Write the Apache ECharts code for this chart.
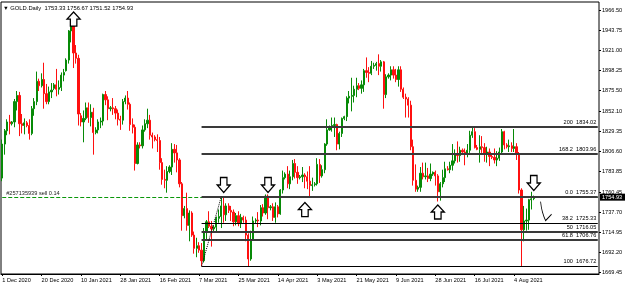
<!DOCTYPE html>
<html><head><meta charset="utf-8">
<script src="https://cdn.jsdelivr.net/npm/echarts@6/dist/echarts.min.js"></script>
<style>html,body{margin:0;padding:0;background:#fff}#c{width:625px;height:286px}</style>
</head><body><div id="c"></div>
<script>
const dates = [
'2020.12.01','2020.12.02','2020.12.03','2020.12.04',
'2020.12.06','2020.12.07','2020.12.08','2020.12.09','2020.12.10','2020.12.11',
'2020.12.13','2020.12.14','2020.12.15','2020.12.16','2020.12.17','2020.12.18',
'2020.12.20','2020.12.21','2020.12.22','2020.12.23','2020.12.24',
'2020.12.27','2020.12.28','2020.12.29','2020.12.30','2020.12.31',
'2021.01.03','2021.01.04','2021.01.05','2021.01.06','2021.01.07','2021.01.08',
'2021.01.10','2021.01.11','2021.01.12','2021.01.13','2021.01.14','2021.01.15',
'2021.01.17','2021.01.18','2021.01.19','2021.01.20','2021.01.21','2021.01.22',
'2021.01.24','2021.01.25','2021.01.26','2021.01.27','2021.01.28','2021.01.29',
'2021.01.31','2021.02.01','2021.02.02','2021.02.03','2021.02.04','2021.02.05',
'2021.02.07','2021.02.08','2021.02.09','2021.02.10','2021.02.11','2021.02.12',
'2021.02.14','2021.02.15','2021.02.16','2021.02.17','2021.02.18','2021.02.19',
'2021.02.21','2021.02.22','2021.02.23','2021.02.24','2021.02.25','2021.02.26',
'2021.02.28','2021.03.01','2021.03.02','2021.03.03','2021.03.04','2021.03.05',
'2021.03.07','2021.03.08','2021.03.09','2021.03.10','2021.03.11','2021.03.12',
'2021.03.14','2021.03.15','2021.03.16','2021.03.17','2021.03.18','2021.03.19',
'2021.03.21','2021.03.22','2021.03.23','2021.03.24','2021.03.25','2021.03.26',
'2021.03.28','2021.03.29','2021.03.30','2021.03.31','2021.04.01',
'2021.04.04','2021.04.05','2021.04.06','2021.04.07','2021.04.08','2021.04.09',
'2021.04.11','2021.04.12','2021.04.13','2021.04.14','2021.04.15','2021.04.16',
'2021.04.18','2021.04.19','2021.04.20','2021.04.21','2021.04.22','2021.04.23',
'2021.04.25','2021.04.26','2021.04.27','2021.04.28','2021.04.29','2021.04.30',
'2021.05.02','2021.05.03','2021.05.04','2021.05.05','2021.05.06','2021.05.07',
'2021.05.09','2021.05.10','2021.05.11','2021.05.12','2021.05.13','2021.05.14',
'2021.05.16','2021.05.17','2021.05.18','2021.05.19','2021.05.20','2021.05.21',
'2021.05.23','2021.05.24','2021.05.25','2021.05.26','2021.05.27','2021.05.28',
'2021.05.30','2021.05.31','2021.06.01','2021.06.02','2021.06.03','2021.06.04',
'2021.06.06','2021.06.07','2021.06.08','2021.06.09','2021.06.10','2021.06.11',
'2021.06.13','2021.06.14','2021.06.15','2021.06.16','2021.06.17','2021.06.18',
'2021.06.20','2021.06.21','2021.06.22','2021.06.23','2021.06.24','2021.06.25',
'2021.06.27','2021.06.28','2021.06.29','2021.06.30','2021.07.01','2021.07.02',
'2021.07.04','2021.07.05','2021.07.06','2021.07.07','2021.07.08','2021.07.09',
'2021.07.11','2021.07.12','2021.07.13','2021.07.14','2021.07.15','2021.07.16',
'2021.07.18','2021.07.19','2021.07.20','2021.07.21','2021.07.22','2021.07.23',
'2021.07.25','2021.07.26','2021.07.27','2021.07.28','2021.07.29','2021.07.30',
'2021.08.01','2021.08.02','2021.08.03','2021.08.04','2021.08.05','2021.08.06',
'2021.08.08','2021.08.09','2021.08.10','2021.08.11','2021.08.12','2021.08.13'
];
const futureDates = [
'2021.08.15','2021.08.16','2021.08.17','2021.08.18','2021.08.19','2021.08.20',
'2021.08.22','2021.08.23','2021.08.24','2021.08.25','2021.08.26','2021.08.27',
'2021.08.29','2021.08.30','2021.08.31','2021.09.01','2021.09.02','2021.09.03',
'2021.09.05','2021.09.06','2021.09.07','2021.09.08','2021.09.09','2021.09.10',
'2021.09.12','2021.09.13'
];
const opens = [
1776.5,1815,1830,1840,
1838,1840,1863,1870,1838,1836,
1839,1836,1827,1855,1863,1886,
1881,1888,1872,1863,1874,
1878,1882,1877,1879,1893,
1898,1910,1943,1949,1918,1912,
1847,1840,1844,1856,1845,1851,
1828,1831,1840,1841,1871,1865,
1855,1856,1855,1850,1843,1842,
1863,1867,1860,1837,1834,1793,
1814,1813,1831,1838,1842,1825,
1823,1820,1819,1794,1775,1774,
1784,1789,1809,1805,1797,1770,
1734,1742,1723,1737,1712,1697,
1700,1695,1683,1716,1727,1722,
1719,1721,1731,1733,1745,1735,
1745,1740,1738,1727,1734,1725,
1732,1729,1712,1685,1707,
1728,1729,1728,1743,1737,1756,
1743,1744,1732,1744,1736,1763,
1777,1781,1770,1778,1793,1783,
1777,1778,1780,1778,1773,1768,
1769,1770,1792,1779,1786,1815,
1831,1834,1836,1837,1815,1827,
1844,1846,1867,1869,1870,1877,
1881,1878,1882,1898,1896,1895,
1903,1904,1906,1903,1908,1871,
1891,1893,1899,1893,1888,1899,
1877,1868,1866,1859,1812,1774,
1764,1766,1782,1778,1779,1776,
1781,1783,1779,1761,1770,1777,
1787,1786,1791,1796,1803,1802,
1808,1806,1805,1808,1825,1829,
1811,1809,1812,1811,1804,1806,
1801,1800,1797,1799,1806,1829,
1814,1812,1813,1810,1812,1804,
1763,1718,1728,1729,1752,1753.33
];
const highs = [
1820,1832,1843,1848,
1841,1866,1875,1874,1849,1844,
1841,1843,1858,1867,1897,1889,
1895,1907,1883,1880,1884,
1884,1900,1887,1896,1900,
1912,1944,1952,1959,1927,1916,
1850,1853,1862,1862,1860,1856,
1834,1843,1845,1872,1875,1869,
1858,1867,1858,1854,1847,1866,
1870,1875,1862,1844,1837,1817,
1817,1836,1843,1855,1848,1828,
1825,1826,1823,1799,1786,1790,
1791,1816,1815,1814,1799,1772,
1745,1760,1740,1739,1716,1709,
1704,1703,1720,1729,1739,1728,
1723,1733,1741,1755.37,1755,1748,
1748,1745,1741,1737,1739,1736,
1734,1733,1714,1717,1733,
1731,1738,1746,1747,1758,1758,
1746,1748,1749,1746,1764,1785,
1783,1790,1785,1797,1798,1790,
1780,1789,1782,1784,1790,1777,
1772,1799,1798,1791,1816,1843,
1836,1845,1845,1838,1829,1845,
1847,1869,1875,1890,1881,1890,
1884,1887,1900,1913,1902,1909,
1907,1908,1916.5,1910,1909,1894,
1895,1903,1903,1900,1903,1903,
1879,1872,1868,1864,1820,1792,
1768,1789,1794,1794,1788,1793,
1784,1785,1781,1772,1786,1795,
1790,1795,1815,1809,1818,1812,
1810,1810,1815,1830,1834,1833,
1814,1825,1824,1816,1812,1810,
1803,1810,1807,1811,1832,1830,
1816,1820,1817,1832,1816,1806,
1765,1745,1742,1753,1761,1756.67
];
const lows = [
1773,1803,1825,1826,
1836,1834,1853,1824,1827,1826,
1834,1820,1825,1847,1859,1875,
1879,1855,1860,1860,1867,
1876,1869,1871,1875,1886,
1897,1906,1930,1901,1906,1836,
1835,1817,1842,1839,1835,1803,
1826,1827,1833,1836,1859,1842,
1852,1848,1843,1836,1831,1837,
1860,1854,1830,1827,1785,1792,
1810,1810,1829,1833,1820,1810,
1818,1806,1786,1769,1765,1760,
1782,1780,1794,1783,1766,1717,
1731,1717,1705,1710,1691,1687,
1692,1676.72,1681,1707,1720,1699,
1716,1716,1726,1720,1726,1728,
1737,1728,1722,1723,1722,1720,
1726,1705,1677,1683,1706,
1725,1721,1723,1733,1735,1730,
1740,1728,1726,1732,1735,1759,
1775,1765,1764,1774,1776,1770,
1775,1772,1765,1764,1756,1762,
1767,1768,1771,1777,1782,1813,
1830,1829,1823,1808,1809,1823,
1842,1841,1861,1852,1862,1868,
1876,1872,1874,1890,1885,1893,
1900,1898,1893,1897,1855,1867,
1889,1887,1889,1885,1880,1874,
1866,1845,1845,1808,1768,1761,
1761,1761,1775,1775,1772,1773,
1779,1768,1750,1751,1766,1772,
1785,1782,1785,1793,1794,1795,
1805,1791,1800,1805,1822,1810,
1808,1794,1805,1795,1794,1790,
1798,1793,1790,1796,1804,1809,
1810,1806,1806,1806,1797,1759,
1677,1705,1717,1718,1741,1751.52
];
const closes = [
1815,1830,1840,1838,
1840,1863,1870,1838,1836,1839,
1836,1827,1855,1863,1886,1881,
1888,1872,1863,1874,1876,
1882,1877,1879,1893,1896,
1910,1943,1949,1918,1912,1849,
1840,1844,1856,1845,1851,1828,
1831,1840,1841,1871,1865,1855,
1856,1855,1850,1843,1842,1863,
1867,1860,1837,1834,1793,1814,
1813,1831,1838,1842,1825,1823,
1820,1819,1794,1775,1774,1784,
1789,1809,1805,1797,1770,1734,
1742,1723,1737,1712,1697,1700,
1695,1683,1716,1727,1722,1719,
1721,1731,1733,1745,1735,1745,
1740,1738,1727,1734,1725,1732,
1729,1712,1685,1707,1728,
1729,1728,1743,1737,1756,1743,
1744,1732,1744,1736,1763,1777,
1781,1770,1778,1793,1783,1777,
1778,1780,1778,1773,1768,1769,
1770,1792,1779,1786,1815,1831,
1834,1836,1837,1815,1827,1844,
1846,1867,1869,1870,1877,1881,
1878,1882,1898,1896,1895,1903,
1904,1906,1903,1908,1871,1891,
1893,1899,1893,1888,1899,1877,
1868,1866,1859,1812,1774,1764,
1766,1782,1778,1779,1776,1781,
1783,1779,1761,1770,1777,1787,
1786,1791,1796,1803,1802,1808,
1806,1805,1808,1825,1829,1811,
1809,1812,1811,1804,1806,1801,
1800,1797,1799,1806,1829,1814,
1812,1813,1810,1812,1804,1763,
1718,1728,1729,1752,1753,1754.93
];
const priceTicks = [1966.50,1943.75,1921.00,1898.25,1875.50,1852.10,1829.35,1806.60,1783.85,1760.45,1737.70,1714.95,1692.20,1669.45];
const dateTickValues = ['2020.12.01','2020.12.20','2021.01.10','2021.01.28','2021.02.16','2021.03.07','2021.03.25','2021.04.14','2021.05.03','2021.05.21','2021.06.09','2021.06.28','2021.07.16','2021.08.04'];
const dateTickLabels = ['1 Dec 2020','20 Dec 2020','10 Jan 2021','28 Jan 2021','16 Feb 2021','7 Mar 2021','25 Mar 2021','14 Apr 2021','3 May 2021','21 May 2021','9 Jun 2021','28 Jun 2021','16 Jul 2021','4 Aug 2021'];
const fibLevels = ['200','168.2','0.0','38.2','50','61.8','100'];
const fibPrices = [1834.02,1803.96,1755.37,1725.33,1716.05,1706.76,1676.72];
const fibStart = '2021.03.08';
const fibAnchorHigh = '2021.03.17';
const orderPrice = 1755.0;
const orderText = '#257135939 sell 0.14';
const bidPrice = 1754.93;
const titleText = '\u25BC GOLD.Daily  1753.33 1756.67 1751.52 1754.93';
const arrowsUp = [['2021.01.06',1956.4],['2021.04.27',1740.9],['2021.06.29',1738.1]];
const arrowsDown = [['2021.03.18',1768.7],['2021.04.09',1768.7],['2021.08.13',1770.9]];
const sketchArrow = ['2021.08.19',1739.2];

const categories = dates.concat(futureDates);
const lastCat = categories[categories.length - 1];
const FONT = 'Liberation Sans, Arial, sans-serif';
const SZ = 5.6;
const UP_PATH = 'path://M6,0 L12,7 L9,7 L9,14 L3,14 L3,7 L0,7 Z';
const DOWN_PATH = 'path://M3,0 L9,0 L9,7 L12,7 L6,14 L0,7 L3,7 Z';
const SKETCH_PATH = 'path://M0,0 Q1,10 5,18 L11,12';

const candleData = dates.map((d, i) => [opens[i], closes[i], lows[i], highs[i]]);
const tickSet = new Set(dateTickValues);

const lineData = [];
lineData.push([
  {coord: [categories[0], orderPrice], lineStyle: {color: '#0a960a', width: 1, type: [4, 2]},
   label: {show: true, position: 'insideStartTop', formatter: orderText, color: '#222', fontSize: SZ, fontFamily: FONT, distance: [4, 1]}},
  {coord: [lastCat, orderPrice]}
]);
fibLevels.forEach((lv, k) => {
  const thin = (lv === '38.2' || lv === '100');
  lineData.push([
    {coord: [fibStart, fibPrices[k]], lineStyle: {color: thin ? '#000' : '#3a3a3a', width: thin ? 1 : 2, type: 'solid'},
     label: {show: true, position: 'insideEndTop', formatter: lv + '  ' + fibPrices[k].toFixed(2), color: '#000', fontSize: SZ, fontFamily: FONT, distance: 1.5}},
    {coord: [lastCat, fibPrices[k]]}
  ]);
});
lineData.push([
  {coord: [fibStart, fibPrices[6]], lineStyle: {color: '#000', width: 1, type: 'dotted'}, label: {show: false}},
  {coord: [fibAnchorHigh, fibPrices[2]]}
]);
lineData.push({
  yAxis: bidPrice, lineStyle: {color: 'rgba(0,0,0,0)', width: 0},
  label: {show: true, position: 'end', formatter: bidPrice.toFixed(2), backgroundColor: '#000', color: '#fff',
          padding: [1, 5, 0, 2], distance: 1, fontSize: SZ, fontFamily: FONT}
});

const pointData = [];
arrowsUp.forEach(a => pointData.push({coord: a, symbol: UP_PATH, symbolSize: [13, 14]}));
arrowsDown.forEach(a => pointData.push({coord: a, symbol: DOWN_PATH, symbolSize: [13, 15]}));
pointData.push({coord: sketchArrow, symbol: SKETCH_PATH, symbolSize: [11, 19],
  itemStyle: {color: 'rgba(0,0,0,0)', borderColor: '#000', borderWidth: 1}});

const chart = echarts.init(document.getElementById('c'), null, {renderer: 'canvas'});
chart.setOption({
  animation: false,
  backgroundColor: '#fff',
  title: {text: titleText, left: 3, top: 5, padding: 0,
    textStyle: {fontSize: SZ + 0.2, fontWeight: 'normal', color: '#000', fontFamily: FONT}},
  grid: {left: 1, right: 26, top: 2, bottom: 12, show: true, borderColor: '#000', borderWidth: 1,
         containLabel: false, outerBoundsMode: 'none'},
  xAxis: {
    type: 'category', data: categories, boundaryGap: true,
    axisLine: {show: true, lineStyle: {color: '#000', width: 1}},
    axisTick: {show: true, alignWithLabel: true, length: 2, interval: (i, v) => tickSet.has(v), lineStyle: {color: '#000'}},
    axisLabel: {show: true, interval: (i, v) => tickSet.has(v),
      formatter: v => dateTickLabels[dateTickValues.indexOf(v)] || '',
      align: 'left', margin: 3, fontSize: SZ, color: '#000', fontFamily: FONT},
    splitLine: {show: false}
  },
  yAxis: {
    type: 'value', position: 'right', min: 1668.0, max: 1975.7, scale: true,
    axisLine: {show: false},
    axisTick: {show: true, customValues: priceTicks, length: 2, lineStyle: {color: '#000'}},
    axisLabel: {show: true, customValues: priceTicks, formatter: v => v.toFixed(2), margin: 3,
      fontSize: SZ, color: '#000', fontFamily: FONT},
    splitLine: {show: false}
  },
  series: [{
    type: 'candlestick',
    data: candleData,
    barWidth: 1.7,
    itemStyle: {color: '#078a07', color0: '#ff1010', borderColor: '#078a07', borderColor0: '#ff1010', borderWidth: 1},
    markLine: {silent: true, symbol: ['none', 'none'], animation: false, data: lineData},
    markPoint: {silent: true, animation: false, label: {show: false},
      itemStyle: {color: '#fff', borderColor: '#000', borderWidth: 1.3}, data: pointData}
  }]
});
</script>
</body></html>
